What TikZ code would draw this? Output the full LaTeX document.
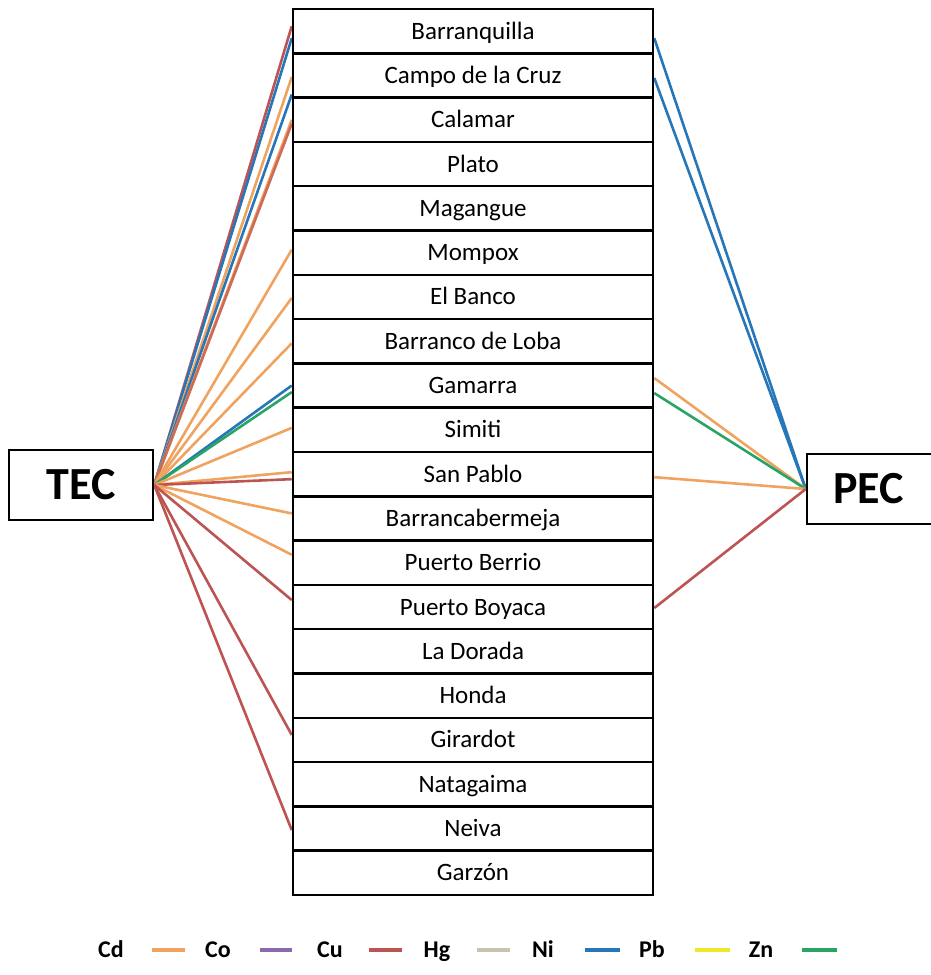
\documentclass[tikz,border=0pt]{standalone}
\usepackage{fontspec}
\setmainfont{Carlito}
\usetikzlibrary{calc,backgrounds}
\definecolor{cdc}{RGB}{240,163,95}
\definecolor{coc}{RGB}{140,105,170}
\definecolor{cuc}{RGB}{189,84,84}
\definecolor{hgc}{RGB}{200,195,172}
\definecolor{nic}{RGB}{38,118,184}
\definecolor{pbc}{RGB}{238,232,40}
\definecolor{znc}{RGB}{40,165,100}
\begin{document}
\begin{tikzpicture}[x=1pt,y=1pt,
  city/.style={draw=black, line width=2.5pt, fill=white, minimum width=360pt,
    minimum height=44.3pt, inner sep=0pt, text height=19pt, text depth=3pt,
    font=\fontsize{25}{25}\selectfont},
  bigbox/.style={draw=black, line width=2.5pt, fill=white, inner sep=0pt,
    minimum height=70pt, font=\fontsize{46}{46}\selectfont\bfseries},
  link/.style={line width=2.6pt},
  lgtext/.style={font=\fontsize{24}{24}\selectfont\bfseries, inner sep=0pt, anchor=base},
  swatch/.style={line width=4.5pt}]
\clip (0,0) rectangle (931,-975);
% stack of stations
\foreach \nm [count=\i] in {Barranquilla,Campo de la Cruz,Calamar,Plato,Magangue,Mompox,El Banco,Barranco de Loba,Gamarra,Simiti,San Pablo,Barrancabermeja,Puerto Berrio,Puerto Boyaca,La Dorada,Honda,Girardot,Natagaima,Neiva,Garzón}
  \node[city] (s\i) at (473,{-9-44.3*(\i-0.5)}) {\nm};
\node[bigbox, minimum width=144pt] (tec) at (81,-485) {TEC};
\node[bigbox, minimum width=133pt, text width=125pt, align=left] (pec) at (873.5,-489) {\hspace*{22pt}PEC};
% connectors
\begin{scope}[on background layer]
% TEC side
\draw[link,cuc] (tec.east) -- ([yshift=5pt]s1.west);
\draw[link,nic] (tec.east) -- ([yshift=-7pt]s1.west);
\draw[link,cdc] (tec.east) -- ([yshift=-1.5pt]s2.west);
\draw[link,nic] (tec.east) -- ([yshift=-19pt]s2.west);
\draw[link,cdc] (tec.east) -- ([yshift=0pt]s3.west);
\draw[link,cuc!70!cdc] (tec.east) -- ([yshift=-4pt]s3.west);
\draw[link,cdc] (tec.east) -- ([yshift=3pt]s6.west);
\draw[link,cdc] (tec.east) -- ([yshift=-1pt]s7.west);
\draw[link,cdc] (tec.east) -- ([yshift=-2pt]s8.west);
\draw[link,nic] (tec.east) -- ([yshift=0pt]s9.west);
\draw[link,znc] (tec.east) -- ([yshift=-6.5pt]s9.west);
\draw[link,cdc] (tec.east) -- ([yshift=2pt]s10.west);
\draw[link,cdc] (tec.east) -- ([yshift=2pt]s11.west);
\draw[link,cuc] (tec.east) -- ([yshift=-5pt]s11.west);
\draw[link,cdc] (tec.east) -- ([yshift=5pt]s12.west);
\draw[link,cdc] (tec.east) -- ([yshift=8pt]s13.west);
\draw[link,cuc] (tec.east) -- ([yshift=7pt]s14.west);
\draw[link,cuc] (tec.east) -- ([yshift=5pt]s17.west);
\draw[link,cuc] (tec.east) -- ([yshift=-1.5pt]s19.west);
% PEC side
\draw[link,nic] (pec.west) -- ([yshift=-7pt]s1.east);
\draw[link,nic] (pec.west) -- ([yshift=-2.5pt]s2.east);
\draw[link,cdc] (pec.west) -- ([yshift=7.5pt]s9.east);
\draw[link,znc] (pec.west) -- ([yshift=-7.5pt]s9.east);
\draw[link,cdc] (pec.west) -- ([yshift=-3pt]s11.east);
\draw[link,cuc] (pec.west) -- ([yshift=-1pt]s14.east);
\end{scope}
% legend
\node[lgtext] (lcd) at (111,-957) {Cd};
\draw[swatch,cdc] (152,-950) -- (185,-950);
\node[lgtext] (lco) at (218,-957) {Co};
\draw[swatch,coc] (260,-950) -- (292,-950);
\node[lgtext] (lcu) at (330,-957) {Cu};
\draw[swatch,cuc] (369,-950) -- (402,-950);
\node[lgtext] (lhg) at (437,-957) {Hg};
\draw[swatch,hgc] (477,-950) -- (510,-950);
\node[lgtext] (lni) at (543,-957) {Ni};
\draw[swatch,nic] (585,-950) -- (620,-950);
\node[lgtext] (lpb) at (652,-957) {Pb};
\draw[swatch,pbc] (695,-950) -- (730,-950);
\node[lgtext] (lzn) at (761,-957) {Zn};
\draw[swatch,znc] (802,-950) -- (837,-950);
\end{tikzpicture}
\end{document}
